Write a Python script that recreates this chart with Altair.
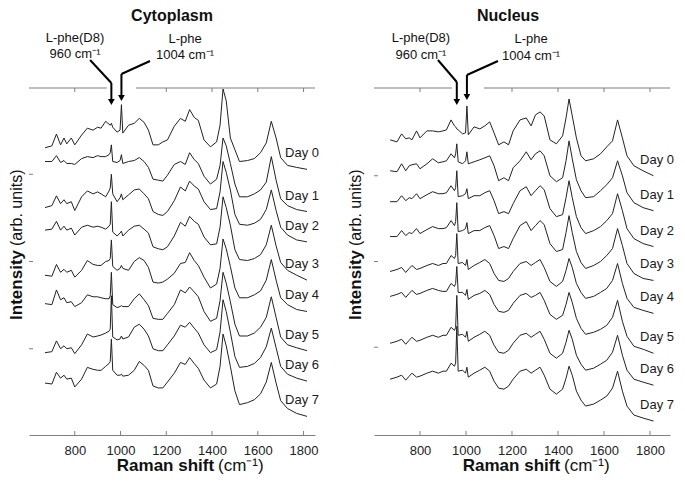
import altair as alt
import pandas as pd

FONT = "Liberation Sans"
AX = "#7f7f7f"
INK = "#222222"

# Raman shift grid (cm-1) shared by every spectrum
wavenumber = [670, 700, 720, 738, 753, 765, 785, 800, 830, 855, 880, 900, 915, 935, 950, 955,
              960, 966, 985, 998, 1004, 1010, 1035, 1060, 1082, 1103, 1122, 1142, 1165, 1185,
              1205, 1235, 1262, 1283, 1302, 1322, 1340, 1365, 1393, 1420, 1435, 1448, 1462,
              1480, 1500, 1520, 1555, 1585, 1612, 1637, 1659, 1680, 1700, 1730, 1770, 1815]

days = ["Day 0", "Day 1", "Day 2", "Day 3", "Day 4", "Day 5", "Day 6", "Day 7"]

# Cytoplasm spectra (stacked intensity, arb. units)
cyto_day0 = [293, 295, 307, 296, 303, 297, 303, 296, 306, 313, 311, 314, 313, 320, 317, 316, 318, 314, 309, 311, 337, 308, 316, 318, 323, 319, 311, 296, 296, 299, 301, 315, 323, 320, 332, 324, 321, 301, 294, 299, 316, 353, 341, 303, 291, 279, 280, 282, 288, 298, 320, 303, 283, 275, 273, 271]
cyto_day1 = [279, 279, 285, 278, 280, 277, 277, 276, 282, 284, 283, 285, 284, 284, 286, 288, 296, 279, 278, 280, 286, 277, 279, 280, 283, 279, 273, 261, 260, 259, 265, 276, 279, 276, 288, 281, 277, 264, 256, 261, 275, 303, 295, 277, 256, 243, 243, 246, 250, 258, 284, 260, 241, 234, 230, 228]
cyto_day2 = [232, 234, 244, 236, 240, 236, 238, 229, 243, 249, 246, 248, 246, 243, 249, 252, 266, 246, 238, 242, 246, 240, 245, 250, 251, 246, 241, 228, 225, 224, 228, 239, 253, 249, 259, 254, 251, 238, 230, 231, 248, 279, 268, 250, 225, 215, 214, 216, 220, 230, 250, 229, 212, 204, 199, 197]
cyto_day3 = [209, 210, 218, 209, 213, 209, 211, 204, 212, 214, 212, 213, 212, 210, 213, 215, 238, 207, 203, 206, 208, 203, 209, 213, 214, 210, 206, 192, 190, 189, 192, 203, 217, 213, 223, 218, 215, 202, 194, 195, 212, 243, 232, 214, 189, 179, 178, 180, 184, 194, 214, 193, 176, 168, 163, 158]
cyto_day4 = [163, 162, 174, 166, 169, 166, 168, 161, 168, 178, 174, 173, 173, 177, 178, 180, 199, 172, 168, 170, 173, 170, 168, 177, 181, 178, 171, 156, 155, 156, 159, 165, 175, 176, 186, 178, 173, 161, 150, 154, 170, 200, 190, 172, 150, 140, 140, 143, 147, 158, 179, 158, 140, 133, 128, 126]
cyto_day5 = [134, 133, 148, 138, 140, 135, 136, 131, 135, 143, 141, 141, 140, 139, 139, 142, 166, 133, 130, 131, 132, 131, 131, 139, 144, 138, 132, 119, 118, 118, 124, 133, 148, 145, 151, 146, 141, 126, 116, 119, 137, 166, 155, 136, 113, 101, 101, 104, 110, 120, 141, 120, 100, 92, 89, 86]
cyto_day6 = [84, 85, 96, 88, 91, 88, 89, 83, 92, 103, 100, 101, 102, 104, 106, 108, 142, 100, 97, 98, 101, 98, 100, 110, 113, 108, 101, 88, 86, 86, 92, 101, 112, 110, 115, 109, 104, 92, 84, 87, 105, 138, 126, 105, 80, 69, 70, 73, 79, 90, 109, 89, 70, 62, 58, 55]
cyto_day7 = [53, 52, 64, 58, 61, 57, 58, 49, 57, 69, 67, 66, 66, 70, 73, 75, 98, 66, 61, 61, 62, 60, 61, 66, 75, 71, 66, 50, 48, 48, 54, 63, 74, 72, 79, 73, 68, 56, 48, 52, 70, 103, 91, 70, 45, 31, 33, 36, 42, 54, 74, 53, 35, 27, 22, 19]

# Nucleus spectra
nuc_day0 = [296, 294, 302, 297, 298, 296, 305, 298, 305, 305, 304, 305, 306, 316, 310, 309, 307, 306, 302, 303, 330, 301, 309, 307, 310, 314, 303, 291, 294, 291, 305, 316, 318, 310, 321, 324, 320, 296, 292, 300, 318, 337, 320, 298, 280, 275, 277, 282, 289, 295, 316, 298, 280, 270, 265, 260]
nuc_day1 = [265, 264, 272, 265, 270, 271, 272, 267, 272, 277, 273, 274, 275, 282, 278, 282, 292, 274, 272, 275, 284, 272, 274, 276, 278, 280, 270, 255, 258, 255, 268, 275, 284, 276, 282, 285, 280, 260, 254, 258, 275, 295, 277, 256, 245, 238, 239, 245, 251, 258, 275, 260, 243, 233, 228, 225]
nuc_day2 = [234, 234, 240, 235, 238, 237, 242, 237, 241, 244, 242, 242, 243, 250, 245, 248, 265, 239, 240, 242, 247, 237, 240, 240, 243, 245, 235, 222, 224, 222, 232, 245, 249, 240, 245, 250, 246, 227, 219, 221, 238, 255, 238, 219, 208, 202, 205, 209, 215, 222, 242, 225, 207, 197, 192, 189]
nuc_day3 = [199, 199, 205, 200, 203, 202, 207, 202, 206, 209, 207, 207, 208, 215, 210, 214, 233, 204, 205, 207, 213, 202, 205, 205, 208, 210, 200, 187, 189, 187, 197, 210, 214, 205, 210, 215, 211, 192, 184, 186, 203, 220, 203, 184, 173, 167, 170, 174, 180, 187, 207, 190, 172, 162, 157, 155]
nuc_day4 = [164, 166, 168, 163, 167, 170, 166, 167, 170, 172, 170, 172, 172, 180, 177, 180, 202, 172, 173, 170, 176, 166, 170, 173, 176, 172, 162, 155, 154, 157, 164, 172, 174, 170, 173, 176, 168, 154, 149, 154, 165, 177, 168, 152, 143, 137, 139, 143, 147, 155, 172, 152, 137, 128, 125, 122]
nuc_day5 = [139, 141, 143, 138, 142, 145, 141, 142, 145, 147, 145, 144, 144, 152, 149, 152, 169, 143, 143, 140, 146, 136, 140, 142, 145, 141, 131, 124, 123, 125, 132, 140, 142, 138, 140, 143, 135, 121, 116, 120, 131, 143, 133, 117, 107, 101, 103, 106, 110, 118, 135, 114, 99, 89, 86, 82]
nuc_day6 = [92, 94, 96, 91, 95, 98, 94, 95, 98, 100, 98, 100, 100, 108, 105, 108, 140, 100, 101, 98, 104, 94, 98, 101, 104, 100, 90, 83, 82, 85, 92, 100, 102, 98, 101, 104, 96, 82, 77, 82, 93, 105, 96, 80, 71, 65, 67, 71, 75, 83, 100, 80, 65, 56, 53, 50]
nuc_day7 = [56, 58, 60, 55, 59, 62, 58, 59, 62, 64, 62, 64, 64, 72, 69, 72, 109, 64, 65, 62, 68, 58, 62, 65, 68, 64, 54, 47, 46, 49, 56, 64, 66, 62, 65, 68, 60, 46, 41, 46, 57, 69, 60, 44, 35, 29, 31, 35, 39, 47, 64, 44, 29, 20, 17, 14]

cyto = [cyto_day0, cyto_day1, cyto_day2, cyto_day3, cyto_day4, cyto_day5, cyto_day6, cyto_day7]
nuc = [nuc_day0, nuc_day1, nuc_day2, nuc_day3, nuc_day4, nuc_day5, nuc_day6, nuc_day7]

x_ticks = [800, 1000, 1200, 1400, 1600, 1800]
one = pd.DataFrame({"a": [0]})


def long_df(spectra):
    rows = []
    for d, vals in zip(days, spectra):
        for w, v in zip(wavenumber, vals):
            rows.append({"wn": w, "val": v, "day": d})
    return pd.DataFrame(rows)


def xd(v):
    return alt.XDatum(v, type="quantitative")


def panel(spectra, title, xmax, ymax, width, height, gap, title_wn, ann, arrows,
          ytitle_px, day_wn, y_ticks):
    df = long_df(spectra)
    xs = alt.Scale(domain=[600, xmax], nice=False, zero=False)
    ys = alt.Scale(domain=[0, ymax], nice=False, zero=False)

    lines = alt.Chart(df).mark_line(color=INK, strokeWidth=1.0).encode(
        x=alt.X("wn:Q", scale=xs, axis=alt.Axis(
            values=x_ticks, format="d", ticks=False, grid=False, title=None, labelFont=FONT,
            labelFontSize=13, labelColor="#222", labelPadding=9,
            domainColor=AX, domainWidth=1.2)),
        y=alt.Y("val:Q", scale=ys, axis=alt.Axis(
            labels=False, ticks=False, grid=False, title=None,
            domainColor=AX, domainWidth=1.2)),
        detail="day:N",
    )

    layers = [lines]

    # day labels next to the end of each trace
    layers.append(alt.Chart(df).transform_filter(alt.datum.wn == wavenumber[-1]).mark_text(
        align="left", baseline="middle", dy=-16, font=FONT, fontSize=13, color="#1a1a1a"
    ).encode(x=xd(day_wn), y=alt.Y("val:Q", axis=None), text="day:N"))

    # top frame line with a gap for the arrows
    for a, b in [(600, gap[0]), (gap[1], xmax)]:
        layers.append(alt.Chart(one).mark_rule(color=AX, strokeWidth=1.2).encode(
            x=xd(a), x2=alt.X2Datum(b), y=alt.value(0)))

    # inward ticks
    for t in x_ticks:
        layers.append(alt.Chart(one).mark_rule(color=AX, strokeWidth=1).encode(
            x=xd(t), y=alt.value(height), y2=alt.value(height - 4)))
        if not (gap[0] < t < gap[1]):
            layers.append(alt.Chart(one).mark_rule(color=AX, strokeWidth=1).encode(
                x=xd(t), y=alt.value(0), y2=alt.value(4)))
    for t in y_ticks:
        layers.append(alt.Chart(one).mark_rule(color=AX, strokeWidth=1).encode(
            y=alt.YDatum(t, type="quantitative"), x=alt.value(0), x2=alt.value(4)))

    # panel title
    layers.append(alt.Chart(one).mark_text(
        text=title, font=FONT, fontSize=16, fontWeight="bold", color="#111",
        baseline="middle", align="center").encode(x=xd(title_wn), y=alt.value(-72)))

    # peak annotations
    for txt, wn, ypx in ann:
        layers.append(alt.Chart(one).mark_text(
            text=txt, font=FONT, fontSize=13, color="#111", baseline="middle",
            align="center").encode(x=xd(wn), y=alt.value(ypx)))
    for (x1, y1, x2, y2) in arrows:
        layers.append(alt.Chart(one).mark_rule(color="#000", strokeWidth=2).encode(
            x=xd(x1), x2=alt.X2Datum(x2), y=alt.value(y1), y2=alt.value(y2)))
        if x1 == x2:
            layers.append(alt.Chart(one).mark_point(
                shape="triangle-down", filled=True, size=45, color="#000", opacity=1
            ).encode(x=xd(x2), y=alt.value(y2)))

    # axis titles (mixed bold / regular)
    layers.append(alt.Chart(one).mark_text(
        text="Intensity", font=FONT, fontSize=17, fontWeight="bold", angle=270,
        align="right", baseline="middle", color="#111").encode(
        x=alt.value(ytitle_px), y=alt.value(162)))
    layers.append(alt.Chart(one).mark_text(
        text="(arb. units)", font=FONT, fontSize=16, angle=270,
        align="left", baseline="middle", color="#111").encode(
        x=alt.value(ytitle_px), y=alt.value(158)))
    layers.append(alt.Chart(one).mark_text(
        text="Raman shift", font=FONT, fontSize=17, fontWeight="bold",
        align="right", baseline="middle", color="#111").encode(
        x=xd(1409), y=alt.value(height + 31)))
    layers.append(alt.Chart(one).mark_text(
        text="(cm\u207b\u00b9)", font=FONT, fontSize=17,
        align="left", baseline="middle", color="#111").encode(
        x=xd(1426), y=alt.value(height + 31)))

    return alt.layer(*layers).properties(width=width, height=height)


left = panel(
    cyto, "Cytoplasm", 1850, 354, 286, 347, (940, 1068), 1225,
    [("L-phe(D8)", 801, -50), ("960 cm\u207b\u00b9", 801, -34),
     ("L-phe", 1282, -49), ("1004 cm\u207b\u00b9", 1282, -33)],
    [(867, -28, 960, -5), (960, -5, 960, 14), (1129, -27, 1004, -14), (1004, -14, 1004, 10)],
    -12, 1719, [88, 177, 266])

right = panel(
    nuc, "Nucleus", 1887, 348, 296, 347, (939, 1078), 1183,
    [("L-phe(D8)", 804, -50), ("960 cm\u207b\u00b9", 804, -33),
     ("L-phe", 1283, -49), ("1004 cm\u207b\u00b9", 1283, -32)],
    [(878, -28, 960, -6), (960, -6, 960, 14), (1139, -27, 1004, -13), (1004, -13, 1004, 9)],
    -18, 1757, [88, 174, 260])

chart = alt.hconcat(left, right, spacing=28).properties(
    padding=0
).configure_view(stroke=None).configure_scale(continuousPadding=0)

chart.save("out.html", embed_options={"renderer": "svg", "actions": False})
